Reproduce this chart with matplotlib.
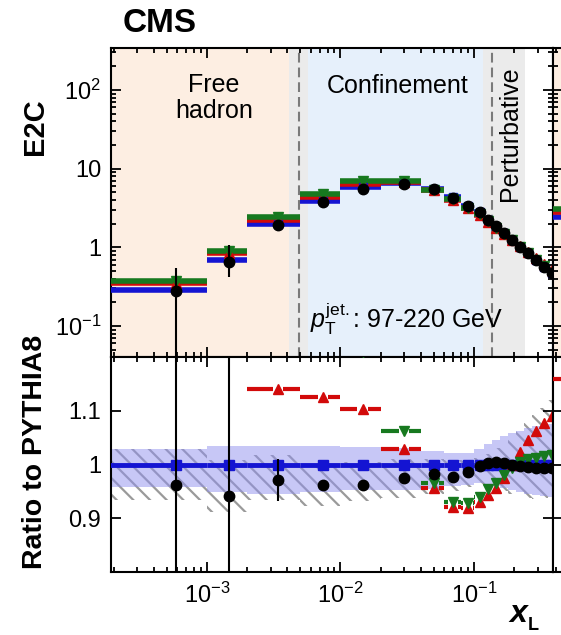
import numpy as np
import matplotlib
matplotlib.use('Agg')
import matplotlib.pyplot as plt
from matplotlib.ticker import FixedLocator, FixedFormatter, LogLocator, NullFormatter, NullLocator

plt.rcParams['font.family'] = ['Liberation Sans', 'DejaVu Sans']
plt.rcParams['mathtext.fontset'] = 'custom'
plt.rcParams['mathtext.rm'] = 'Liberation Sans'
plt.rcParams['mathtext.it'] = 'Liberation Sans:italic'
plt.rcParams['mathtext.bf'] = 'Liberation Sans:bold'
plt.rcParams['hatch.linewidth'] = 1.6
plt.rcParams['lines.scale_dashes'] = False

# binning in x_L
edges = [1e-4, 0.001, 0.002, 0.005, 0.01, 0.02, 0.04, 0.06, 0.08, 0.1,
         0.118, 0.136, 0.156, 0.18, 0.206, 0.236, 0.27, 0.31, 0.36, 0.41]
centers = [5.9e-4, 1.46e-3, 3.4e-3, 7.4e-3, 1.47e-2, 2.99e-2, 5.0e-2, 6.96e-2, 9.0e-2,
           0.111, 0.127, 0.146, 0.168, 0.193, 0.221, 0.254, 0.291, 0.334, 0.384]

# PYTHIA8 E2C (reference)
pythia = [0.287, 0.69, 1.96, 3.91, 5.79, 6.62, 5.56, 4.39, 3.40,
          2.81, 2.25, 1.84, 1.52, 1.25, 1.02, 0.84, 0.69, 0.57, 0.47]

# ratios to PYTHIA8
data_ratio = [0.962, 0.941, 0.971, 0.962, 0.962, 0.974, 0.982, 0.976, 0.986,
              0.997, 1.002, 1.005, 1.002, 0.999, 0.997, 0.995, 0.994, 0.993, 0.993]
data_err_lo = [0.90, 0.36, 0.04, 0.008, 0.006, 0.006, 0.006, 0.006, 0.006,
               0.005, 0.005, 0.005, 0.005, 0.005, 0.005, 0.005, 0.005, 0.005, 0.005]
data_err_hi = [1.00, 0.63, 0.04, 0.008, 0.006, 0.006, 0.006, 0.006, 0.006,
               0.005, 0.005, 0.005, 0.005, 0.005, 0.005, 0.005, 0.005, 0.005, 0.005]
red_ratio = [1.22, 1.22, 1.14, 1.125, 1.104, 1.028, 0.957, 0.921, 0.919,
             0.931, 0.943, 0.956, 0.975, 1.0, 1.023, 1.045, 1.062, 1.077, 1.091]
green_ratio = [1.32, 1.30, 1.25, 1.22, 1.21, 1.062, 0.966, 0.931, 0.928,
               0.940, 0.954, 0.966, 0.980, 0.993, 1.005, 1.010, 1.013, 1.015, 1.017]

# uncertainty bands (ratio panel)
pyth_band_hi = [1.028, 1.034, 1.034, 1.034, 1.033, 1.030, 1.026, 1.022, 1.022,
                1.028, 1.038, 1.046, 1.053, 1.058, 1.063, 1.067, 1.071, 1.074, 1.076]
pyth_band_lo = [0.959, 0.949, 0.946, 0.948, 0.952, 0.952, 0.955, 0.960, 0.962,
                0.966, 0.964, 0.960, 0.956, 0.952, 0.948, 0.945, 0.943, 0.941, 0.940]
syst_hi = [1.028, 1.008, 1.017, 1.000, 1.004, 1.010, 1.010, 1.008, 1.008,
           1.012, 1.020, 1.030, 1.040, 1.052, 1.064, 1.078, 1.092, 1.105, 1.120]
syst_lo = [0.934, 0.912, 0.934, 0.922, 0.932, 0.938, 0.945, 0.950, 0.958,
           0.960, 0.958, 0.955, 0.950, 0.945, 0.940, 0.937, 0.935, 0.937, 0.940]

# first bin of the neighbouring panel (cut by the figure edge)
next_edges = [1e-4, 1e-3]
next_pythia = [2.45]
next_red_ratio = [1.16]
next_green_ratio = [1.25]

# regions
free_end, conf_start, conf_end, pert_end = 0.0041, 0.0057, 0.117, 0.24
boundaries = [0.0049, 0.136]

BLUE, RED, GREEN = '#1414d2', '#d20a0a', '#17791f'
PEACH, LBLUE, GREY = '#fdeee2', '#e6f0fb', '#ebebeb'

xlim = (1.91e-4, 0.391)
ylim_top = (0.0404, 342)
ylim_rat = (0.8, 1.2)

W, H = 561, 635
fig = plt.figure(figsize=(W / 100, H / 100), dpi=100)
L, R = 111 / W, 553 / W
top_pos = [L, 1 - 357 / H, R - L, 309 / H]
bot_pos = [L, 1 - 572 / H, R - L, 215 / H]

ax = fig.add_axes(top_pos)
axr = fig.add_axes(bot_pos)
axn = fig.add_axes([R, top_pos[1], R - L, top_pos[3]])
axnr = fig.add_axes([R, bot_pos[1], R - L, bot_pos[3]])

pythia = np.array(pythia)
data_ratio = np.array(data_ratio)
red_ratio = np.array(red_ratio)
green_ratio = np.array(green_ratio)
data_vals = pythia * data_ratio
lo_e = np.array(edges[:-1])
hi_e = np.array(edges[1:])


def style(a, logy, labels_x, labels_y):
    a.set_xscale('log')
    a.set_xlim(*xlim)
    if logy:
        a.set_yscale('log')
    for s in a.spines.values():
        s.set_linewidth(1.5)
    a.tick_params(which='both', direction='in', top=True, right=True, width=1.3,
                  labelsize=17)
    a.tick_params(which='major', length=7, pad=7)
    a.tick_params(which='minor', length=3.8)
    a.xaxis.set_major_locator(FixedLocator([1e-3, 1e-2, 1e-1]))
    a.xaxis.set_minor_locator(LogLocator(base=10, subs=np.arange(2, 10), numticks=20))
    a.xaxis.set_minor_formatter(NullFormatter())
    if labels_x:
        a.xaxis.set_major_formatter(FixedFormatter([r'$10^{-3}$', r'$10^{-2}$', r'$10^{-1}$']))
    else:
        a.xaxis.set_major_formatter(NullFormatter())
    if not labels_y:
        a.yaxis.set_major_formatter(NullFormatter())
        a.yaxis.set_minor_formatter(NullFormatter())


# ---- top panel ----
ax.axvspan(1e-5, free_end, color=PEACH, lw=0, zorder=0)
ax.axvspan(free_end, conf_start, color=GREY, lw=0, zorder=0)
ax.axvspan(conf_start, conf_end, color=LBLUE, lw=0, zorder=0)
ax.axvspan(conf_end, pert_end, color=GREY, lw=0, zorder=0)
for b in boundaries:
    ax.axvline(b, color='#7a7a7a', lw=1.5, dashes=(7, 3.6), zorder=1)

ax.hlines(pythia, lo_e, hi_e, color=BLUE, lw=4, zorder=3)
ax.hlines(pythia * red_ratio, lo_e, hi_e, color=RED, lw=4, zorder=3)
ax.hlines(pythia * green_ratio, lo_e, hi_e, color=GREEN, lw=4, zorder=3)
ax.plot(centers, pythia, 's', color=BLUE, ms=5.5, zorder=4)
ax.plot(centers, pythia * red_ratio, '^', color=RED, ms=6.5, zorder=4)
ax.plot(centers, pythia * green_ratio, 'v', color=GREEN, ms=6.5, zorder=4)
ax.errorbar(centers, data_vals,
            yerr=[data_vals * np.array(data_err_lo), data_vals * np.array(data_err_hi)],
            fmt='o', color='black', ms=7.5, elinewidth=1.5, capsize=0, zorder=5)

style(ax, True, False, True)
ax.set_ylim(*ylim_top)
ax.yaxis.set_major_locator(FixedLocator([0.1, 1, 10, 100]))
ax.yaxis.set_major_formatter(FixedFormatter([r'$10^{-1}$', '1', '10', r'$10^{2}$']))
ax.yaxis.set_minor_locator(LogLocator(base=10, subs=np.arange(2, 10), numticks=20))
ax.yaxis.set_minor_formatter(NullFormatter())

ax.text(214 / W, 1 - 92 / H, 'Free', transform=fig.transFigure, ha='center',
        va='baseline', fontsize=18, zorder=6)
ax.text(214 / W, 1 - 118 / H, 'hadron', transform=fig.transFigure, ha='center',
        va='baseline', fontsize=18, zorder=6)
ax.text(398 / W, 1 - 93 / H, 'Confinement', transform=fig.transFigure, ha='center',
        va='baseline', fontsize=18, zorder=6)
ax.text(510 / W, 1 - 134 / H, 'Perturbative', transform=fig.transFigure, ha='center',
        va='center', rotation=90, fontsize=18, zorder=6)
ax.text(310 / W, 1 - 328 / H, r'$p_{\mathrm{T}}^{\mathrm{jet.}}$: 97-220 GeV',
        transform=fig.transFigure, ha='left', va='baseline', fontsize=18, zorder=6)

# ---- ratio panel ----
axr.stairs(syst_hi, edges, baseline=syst_lo, fill=True, facecolor='none',
           edgecolor='#9a9a9a', hatch='\\\\', lw=0, zorder=1)
axr.stairs(pyth_band_hi, edges, baseline=pyth_band_lo, fill=True,
           color='#9090ee', alpha=0.5, lw=0, zorder=2)
axr.hlines(np.ones(len(pythia)), lo_e, hi_e, color=BLUE, lw=3.5, zorder=3)
axr.plot(centers, np.ones(len(pythia)), 's', color=BLUE, ms=6.5, zorder=4)

gap = 10 ** 0.04
for vals, col, mk in [(red_ratio, RED, '^'), (green_ratio, GREEN, 'v')]:
    for a, b, c, v in zip(lo_e, hi_e, centers, vals):
        if c / gap > a:
            axr.hlines(v, a, c / gap, color=col, lw=3, zorder=4)
        if c * gap < b:
            axr.hlines(v, c * gap, b, color=col, lw=3, zorder=4)
    axr.plot(centers, vals, mk, color=col, ms=7, zorder=5)

axr.errorbar(centers, data_ratio, yerr=[data_ratio * np.array(data_err_lo),
                                        data_ratio * np.array(data_err_hi)],
             fmt='o', color='black', ms=7.5, elinewidth=1.5, capsize=0, zorder=6)

style(axr, False, True, True)
axr.set_ylim(*ylim_rat)
axr.yaxis.set_major_locator(FixedLocator([0.9, 1.0, 1.1]))
axr.yaxis.set_major_formatter(FixedFormatter(['0.9', '1', '1.1']))
axr.yaxis.set_minor_locator(NullLocator())
axr.tick_params(axis='x', pad=8)

# ---- neighbouring panel (mostly outside the figure) ----
axn.axvspan(1e-5, free_end, color=PEACH, lw=0, zorder=0)
next_pythia = np.array(next_pythia)
axn.hlines(next_pythia, next_edges[0], next_edges[1], color=BLUE, lw=4, zorder=3)
axn.hlines(next_pythia * np.array(next_red_ratio), next_edges[0], next_edges[1], color=RED, lw=4, zorder=3)
axn.hlines(next_pythia * np.array(next_green_ratio), next_edges[0], next_edges[1], color=GREEN, lw=4, zorder=3)
style(axn, True, False, False)
axn.set_ylim(*ylim_top)
axn.yaxis.set_major_locator(FixedLocator([0.1, 1, 10, 100]))
axn.yaxis.set_minor_locator(LogLocator(base=10, subs=np.arange(2, 10), numticks=20))
axn.yaxis.set_major_formatter(NullFormatter())
axn.yaxis.set_minor_formatter(NullFormatter())

axnr.hlines(next_red_ratio, next_edges[0], next_edges[1], color=RED, lw=3, zorder=4)
style(axnr, False, False, False)
axnr.set_ylim(*ylim_rat)
axnr.yaxis.set_major_locator(FixedLocator([0.9, 1.0, 1.1]))
axnr.yaxis.set_minor_locator(NullLocator())

# labels
fig.text(123 / W, 1 - 32 / H, 'CMS', fontsize=24, fontweight='bold', va='baseline')
fig.text(35 / W, 1 - 127 / H, 'E2C', rotation=90, ha='center', va='center',
         fontsize=21, fontweight='bold')
fig.text(35 / W, 1 - 452 / H, 'Ratio to PYTHIA8', rotation=90, ha='center', va='center',
         fontsize=20.5, fontweight='bold')
fig.text(509 / W, 1 - 622 / H, 'x', fontsize=23, fontweight='bold', style='italic',
         va='baseline')
fig.text(528 / W, 1 - 630 / H, 'L', fontsize=13, fontweight='bold', va='baseline')

fig.savefig('out.png', dpi=100)
